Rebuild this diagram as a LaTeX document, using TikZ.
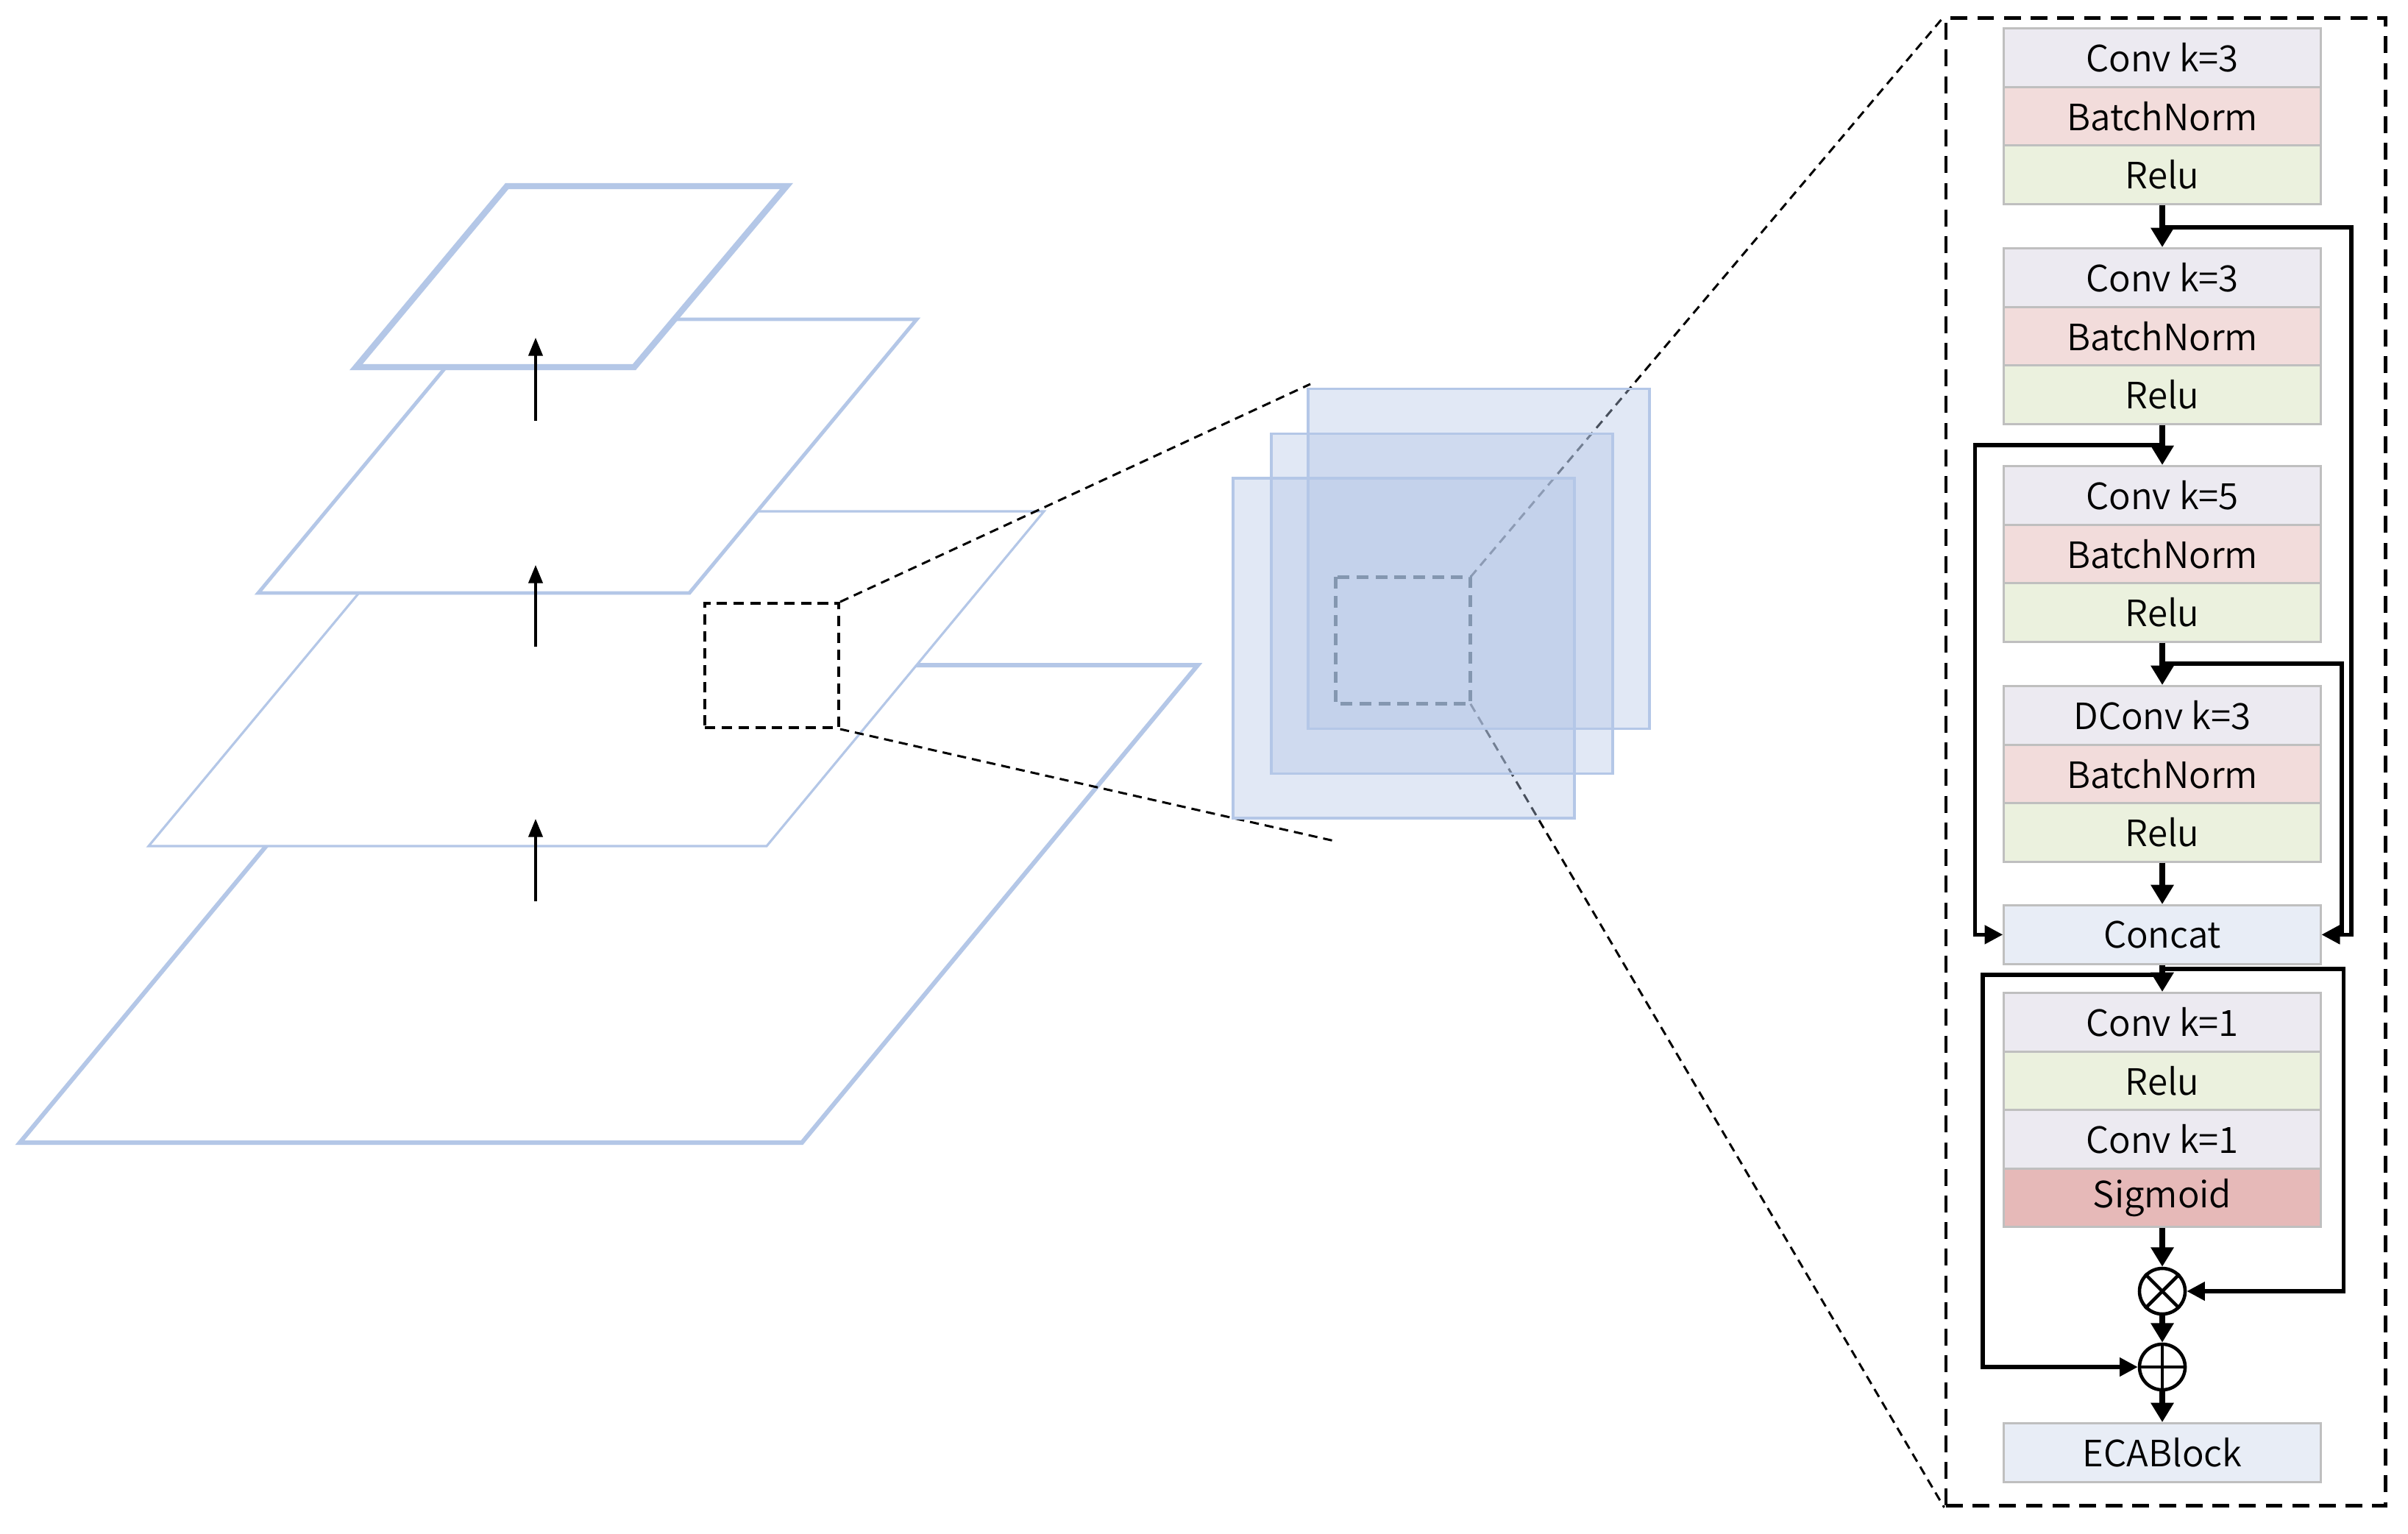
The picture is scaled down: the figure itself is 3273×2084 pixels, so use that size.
\documentclass[tikz,border=0pt]{standalone}
\usepackage{fontspec}
\setmainfont{Noto Sans CJK SC}[UprightFont=* DemiLight]
\usetikzlibrary{arrows.meta,calc}
\definecolor{pblue}{HTML}{B4C7E7}
\definecolor{convc}{HTML}{ECEAF1}
\definecolor{bnc}{HTML}{F2DCDB}
\definecolor{reluc}{HTML}{EBF1DE}
\definecolor{catc}{HTML}{E8EDF6}
\definecolor{sigc}{HTML}{E6B9B8}
\definecolor{bordc}{HTML}{BFBFBF}
\definecolor{dgray}{HTML}{8497B0}
\tikzset{
  layerbox/.style={draw=bordc, line width=0.9pt, minimum width=4.30cm, minimum height=0.795cm, inner sep=0pt, anchor=north, font=\fontsize{14}{17}\selectfont},
  convbox/.style={layerbox, fill=convc},
  bnbox/.style={layerbox, fill=bnc},
  relubox/.style={layerbox, fill=reluc},
  catbox/.style={layerbox, fill=catc},
  sigbox/.style={layerbox, fill=sigc},
  opnode/.style={circle, draw=black, line width=1.3pt, minimum size=0.62cm, inner sep=0pt, fill=white},
  mainarrow/.style={line width=2.4pt, -{Triangle[length=7.5pt,width=8.5pt]}},
  brarrow/.style={line width=1.6pt, -{Triangle[length=7pt,width=7pt]}},
  plane/.style={draw=pblue, fill=white, line join=miter},
  uparrow/.style={line width=0.9pt, -{Triangle[length=7pt,width=5.5pt]}},
  fmap/.style={draw=pblue, line width=1pt, fill=pblue, fill opacity=0.4, minimum width=4.64cm, minimum height=4.62cm, inner sep=0pt},
  thindash/.style={line width=0.85pt, dash pattern=on 3.5pt off 2.3pt},
}
\begin{document}
\begin{tikzpicture}[x=0.01cm,y=-0.01cm]
\useasboundingbox (0,0) rectangle (3273,2084);
\fill[white] (0,0) rectangle (3273,2084);
% feature pyramid planes
\draw[plane, line width=1.7pt] (27,1553) -- (1090,1553) -- (1628,904) -- (566,904) -- cycle;
\draw[plane, line width=0.9pt] (202,1150) -- (1042,1150) -- (1419,695) -- (580,695) -- cycle;
\draw[plane, line width=1.4pt] (351,806) -- (937,806) -- (1246,434) -- (660,434) -- cycle;
\draw[plane, line width=2.4pt] (484,499) -- (862,499) -- (1069,253) -- (689,253) -- cycle;
% up arrows
\coordinate (a1s) at (728,1225); \coordinate (a1e) at (728,1113);
\coordinate (a2s) at (728,879);  \coordinate (a2e) at (728,768);
\coordinate (a3s) at (728,572);  \coordinate (a3e) at (728,459);
\draw[uparrow] (a1s) -- (a1e);
\draw[uparrow] (a2s) -- (a2e);
\draw[uparrow] (a3s) -- (a3e);
% zoom square and its lines
\node[draw=black, line width=1.1pt, dash pattern=on 4pt off 2.5pt, minimum width=1.82cm, minimum height=1.69cm, inner sep=0pt] (zoomsq) at (1049,904.5) {};
\coordinate (ztop) at (1781,522);
\coordinate (zbot) at (1818,1144);
\draw[thindash] (zoomsq.north east) -- (ztop);
\draw[thindash] (zoomsq.south east) -- (zbot);
% panel frame
\node[draw=black, line width=1.3pt, dash pattern=on 6.5pt off 3.8pt, minimum width=5.97cm, minimum height=20.21cm, inner sep=0pt] (panel) at (2943.5,1035.5) {};
% gray square (placed, drawn later)
\node[minimum width=1.82cm, minimum height=1.71cm, inner sep=0pt] (graysq) at (1907,870.5) {};
\draw[thindash] (graysq.north east) -- (panel.north west);
\draw[thindash] (graysq.south east) -- (panel.south west);
% feature maps
\node[fmap] (fm1) at (2010,759.5) {};
\node[fmap] (fm2) at (1960,820.5) {};
\node[fmap] (fm3) at (1908,881) {};
\draw[draw=dgray, line width=1.4pt, dash pattern=on 4.5pt off 2.8pt] (graysq.north west) rectangle (graysq.south east);
% right panel blocks
\node[convbox] (c1) at (2939,37) {Conv k=3};
\node[bnbox] (b1) at (2939,116.5) {BatchNorm};
\node[relubox] (r1) at (2939,196) {Relu};
\node[convbox] (c2) at (2939,336) {Conv k=3};
\node[bnbox] (b2) at (2939,415.5) {BatchNorm};
\node[relubox] (r2) at (2939,495) {Relu};
\node[convbox] (c3) at (2939,632) {Conv k=5};
\node[bnbox] (b3) at (2939,711.5) {BatchNorm};
\node[relubox] (r3) at (2939,791) {Relu};
\node[convbox] (c4) at (2939,931) {DConv k=3};
\node[bnbox] (b4) at (2939,1010.5) {BatchNorm};
\node[relubox] (r4) at (2939,1090) {Relu};
\node[catbox] (cat) at (2939,1229) {Concat};
\node[convbox] (k1) at (2939,1348) {Conv k=1};
\node[relubox] (k2) at (2939,1427.5) {Relu};
\node[convbox] (k3) at (2939,1507) {Conv k=1};
\node[sigbox] (sg) at (2939,1586.5) {Sigmoid};
\node[opnode] (mul) at (2939,1755) {};
\node[opnode] (add) at (2939,1858) {};
\node[catbox] (eca) at (2939,1933) {ECABlock};
\draw[line width=1.3pt] (mul.north east) -- (mul.south west) (mul.north west) -- (mul.south east);
\draw[line width=1.3pt] (add.north) -- (add.south) (add.west) -- (add.east);
% main arrows
\draw[mainarrow] (r1.south) -- (c2.north);
\draw[mainarrow] (r2.south) -- (c3.north);
\draw[mainarrow] (r3.south) -- (c4.north);
\draw[mainarrow] (r4.south) -- (cat.north);
\draw[mainarrow] (cat.south) -- (k1.north);
\draw[mainarrow] (sg.south) -- (mul.north);
\draw[mainarrow] (mul.south) -- (add.north);
\draw[mainarrow] (add.south) -- (eca.north);
% branches
\coordinate (j1) at (2939,309);
\coordinate (j2) at (2939,605);
\coordinate (j3) at (2939,902);
\coordinate (j4) at (2939,1317);
\coordinate (j5) at (2939,1325);
\draw[brarrow] (j1) -| ($(cat.east)+(40,0)$) -- (cat.east);
\draw[brarrow] (j3) -| ($(cat.east)+(27,0)$) -- (cat.east);
\draw[brarrow] (j2) -| ($(cat.west)+(-38,0)$) -- (cat.west);
\draw[brarrow] (j4) -| ($(mul.east)+(213,0)$) -- (mul.east);
\draw[brarrow] (j5) -| ($(add.west)+(-211,0)$) -- (add.west);
\end{tikzpicture}
\end{document}
